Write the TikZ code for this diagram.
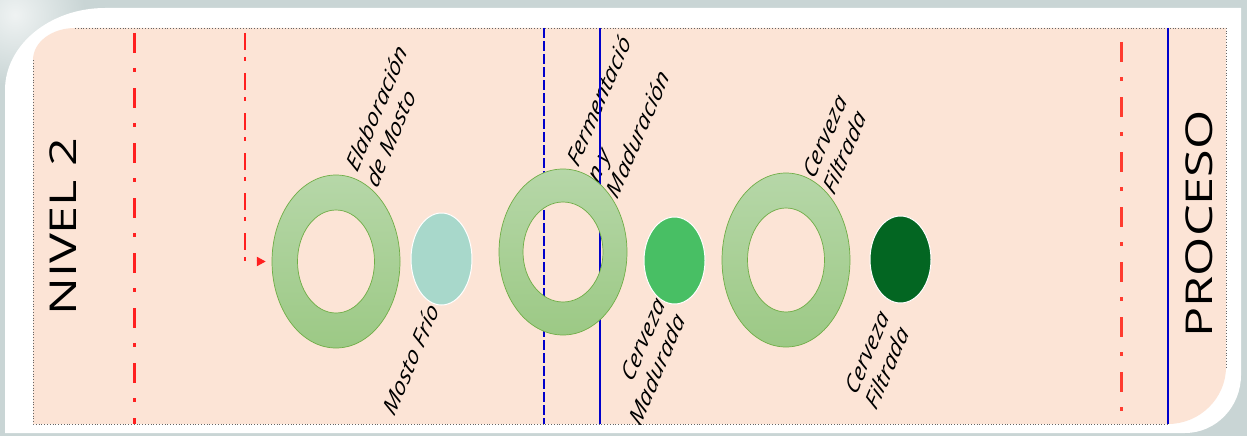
\documentclass[tikz,border=0pt]{standalone}
\usepackage{fontspec}
\setmainfont{Open Sans}
\usetikzlibrary{arrows.meta,shapes.geometric}
\definecolor{peach}{HTML}{FCE4D6}
\definecolor{bgblue}{HTML}{C9D5D5}
\definecolor{ringtop}{HTML}{B6D7A8}
\definecolor{ringbot}{HTML}{9CC985}
\definecolor{ringline}{HTML}{70AD47}
\definecolor{mostofrio}{HTML}{A8D8CB}
\definecolor{cervmad}{HTML}{48BF64}
\definecolor{cervfil}{HTML}{036622}
\definecolor{lred}{HTML}{FF2020}
\definecolor{rred}{HTML}{FF3B2F}
\definecolor{lblue}{HTML}{0000CC}
\begin{document}
\begin{tikzpicture}[x=1pt,y=-1pt,
  redline/.style={line width=3pt, dash pattern=on 20pt off 15pt on 4pt off 16pt},
  arrowline/.style={lred, line width=2.4pt, dash pattern=on 17pt off 7pt on 4pt off 12pt,
     -{Triangle[length=9pt,width=9pt]}, shorten >=6pt},
  blueline/.style={lblue, line width=2.4pt},
  bluedash/.style={lblue, line width=1.6pt, dash pattern=on 10pt off 3pt},
  border/.style={gray!80!black, line width=0.8pt, dotted},
  ringnode/.style={ellipse, inner sep=0pt, minimum width=128pt},
  ringshade/.style={top color=ringtop, bottom color=ringbot, even odd rule},
  ringedge/.style={ringline, line width=0.7pt},
  dot/.style={ellipse, inner sep=0pt, draw=white, line width=1pt, minimum width=61pt},
  lbl/.style={font=\fontsize{19.5}{23}\selectfont\itshape, inner sep=0pt, yscale=1.36, rotate=60},
  side/.style={font=\fontsize{37}{40}\selectfont, inner sep=0pt, yscale=1.36, rotate=90}]
\useasboundingbox (0,0) rectangle (1247,436);
% background
\fill[bgblue] (0,0) rectangle (1247,436);
\shade[inner color=white!70!bgblue, outer color=bgblue] (15,15) circle [radius=70pt];
% white frame
\fill[white] (5,433) -- (5,90) .. controls (5,45) and (50,8) .. (105,8) -- (1241,8)
  -- (1241,375) .. controls (1241,407) and (1216,433) .. (1185,433) -- cycle;
% peach panel
\fill[peach] (33,424) -- (33,60) .. controls (33,42) and (52,28) .. (75,28) -- (1226,28)
  -- (1226,367) .. controls (1226,398) and (1200,424) .. (1168,424) -- cycle;
\draw[border] (75,28) -- (1226,28) -- (1226,367);
\draw[border] (33,60) -- (33,424) -- (1168,424);
% labels
\begin{scope}
\clip (33,28) rectangle (1226,424);
\node[lbl, anchor=base west] (lelab) at (357,174)
  {\begin{tabular}[t]{@{}l@{}}Elaboración\\de Mosto\end{tabular}};
\node[lbl, anchor=base west] (lferm) at (578,169)
  {\begin{tabular}[t]{@{}l@{}}Fermentació\\n y\\Maduración\end{tabular}};
\node[lbl, anchor=base west] (lfilt) at (814,181)
  {\begin{tabular}[t]{@{}l@{}}Cerveza\\Filtrada\end{tabular}};
\node[lbl, anchor=base east] (lmosto) at (440,310)
  {\begin{tabular}[b]{@{}r@{}}Mosto Frío\end{tabular}};
\node[lbl, anchor=base east] (lmad) at (686,320)
  {\begin{tabular}[b]{@{}r@{}}Cerveza\\Madurada\end{tabular}};
\node[lbl, anchor=base east] (lcfil) at (910,333)
  {\begin{tabular}[b]{@{}r@{}}Cerveza\\Filtrada\end{tabular}};
\end{scope}
\node[side] (nivel) at (63,227) {NIVEL 2};
\node[side] (proceso) at (1199,224) {PROCESO};
% vertical lines
\draw[lred, redline] (134,33) -- (134,424);
\draw[rred, redline] (1121,42) -- (1121,424);
\draw[bluedash] (544,28) -- (544,424);
\draw[blueline] (600,28) -- (600,424);
\draw[blueline] (1168,28) -- (1168,424);
% rings
\node[ringnode, minimum height=173pt] (ring1) at (336,261.5) {};
\node[ringnode, minimum height=166pt] (ring2) at (563,252) {};
\node[ringnode, minimum height=174pt] (ring3) at (786,260) {};
\shade[ringshade] (ring1.center) ellipse [x radius=64, y radius=86.5] (ring1.center) ellipse [x radius=38.5, y radius=51.5];
\draw[ringedge] (ring1.center) ellipse [x radius=64, y radius=86.5] (ring1.center) ellipse [x radius=38.5, y radius=51.5];
\shade[ringshade] (ring2.center) ellipse [x radius=64, y radius=83] (ring2.center) ellipse [x radius=40, y radius=50];
\draw[ringedge] (ring2.center) ellipse [x radius=64, y radius=83] (ring2.center) ellipse [x radius=40, y radius=50];
\shade[ringshade] (ring3.center) ellipse [x radius=64, y radius=87] (ring3.center) ellipse [x radius=38.5, y radius=52];
\draw[ringedge] (ring3.center) ellipse [x radius=64, y radius=87] (ring3.center) ellipse [x radius=38.5, y radius=52];
% product dots
\node[dot, fill=mostofrio, minimum height=92pt] (mosto) at (441.5,259) {};
\node[dot, fill=cervmad, minimum height=87pt] (madurada) at (674.5,260.5) {};
\node[dot, fill=cervfil, minimum height=87pt] (filtrada) at (900.5,259.5) {};
% arrow
\coordinate (arrowstart) at (245,33);
\draw[arrowline] (arrowstart) |- (ring1.west);
\end{tikzpicture}
\end{document}
